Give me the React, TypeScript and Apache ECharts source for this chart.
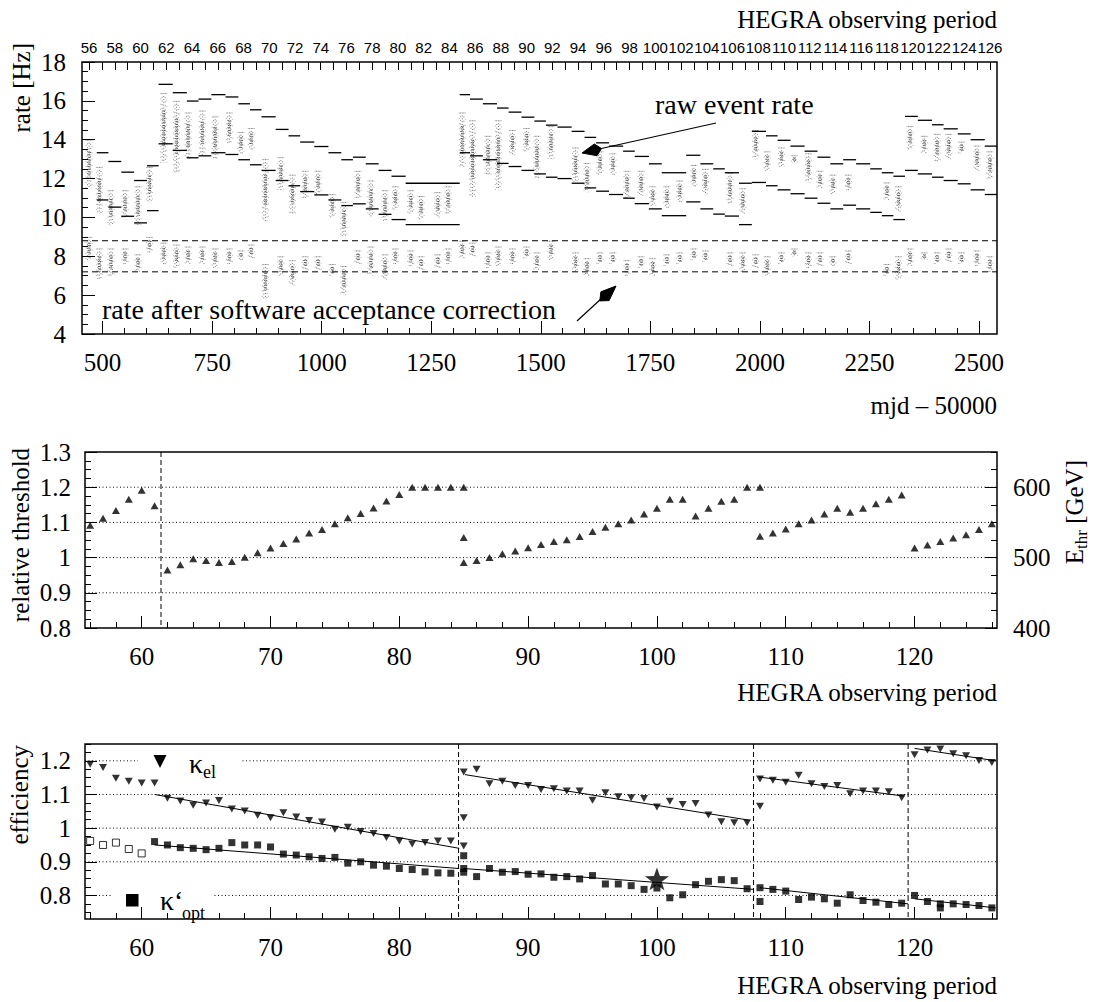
import React, { useEffect, useRef } from "react";
import * as echarts from "echarts";

const SERIF = "Liberation Serif";
const SANS = "Liberation Sans";

// ---------- tick labels ----------
const mjdLabels = [500, 750, 1000, 1250, 1500, 1750, 2000, 2250, 2500];
const periodTopLabels = [56, 58, 60, 62, 64, 66, 68, 70, 72, 74, 76, 78, 80, 82, 84, 86, 88, 90, 92, 94, 96, 98, 100, 102, 104, 106, 108, 110, 112, 114, 116, 118, 120, 122, 124, 126];
const periodLabels = [60, 70, 80, 90, 100, 110, 120];
const rateLabels = [4, 6, 8, 10, 12, 14, 16, 18];
const thrLabels = [0.8, 0.9, 1, 1.1, 1.2, 1.3];
const ethrLabels = [400, 500, 600];
const effLabels = [0.8, 0.9, 1, 1.1, 1.2];

// ---------- top panel: expected raw-rate band per observing period ----------
const stepStart = [56.6, 57.5, 58.5, 59.5, 60.5, 61.4, 62.5, 63.6, 64.5, 65.5, 66.6, 67.6, 68.5, 69.4, 70.5, 71.5, 72.4, 73.5, 74.6, 75.6, 76.5, 77.5, 78.5, 79.5, 80.6, 84.8, 85.6, 86.6, 87.7, 88.6, 89.6, 90.6, 91.5, 92.4, 93.5, 94.5, 95.4, 96.4, 97.5, 98.4, 99.5, 100.5, 102.4, 103.5, 104.5, 105.4, 106.5, 107.5, 108.6, 109.5, 110.5, 111.6, 112.6, 113.6, 114.6, 115.6, 116.7, 117.6, 118.5, 119.4, 120.4, 121.5, 122.4, 123.5, 124.5, 125.6];
const stepLastEnd = 126.6;
const stepUpper = [13.33, 12.88, 12.33, 11.9, 12.66, 16.85, 16.42, 15.99, 16.09, 16.32, 16.2, 15.85, 15.54, 15.18, 14.53, 14.2, 13.88, 13.65, 13.33, 12.97, 13.1, 12.76, 12.42, 12.12, 11.76, 16.32, 16.09, 15.85, 15.63, 15.42, 15.16, 14.96, 14.75, 14.65, 14.43, 14.12, 13.84, 13.67, 13.41, 13.14, 12.76, 12.3, 13.2, 12.76, 12.5, 12.3, 11.76, 14.43, 14.2, 13.97, 13.67, 13.41, 13.1, 12.76, 12.97, 12.76, 12.5, 12.3, 12.12, 15.2, 15.0, 14.77, 14.56, 14.3, 14.0, 13.67];
const stepLower = [10.9, 10.53, 10.06, 9.72, 10.35, 13.79, 13.45, 13.07, 13.17, 13.33, 13.24, 12.97, 12.71, 12.42, 11.9, 11.63, 11.33, 11.16, 10.9, 10.61, 10.7, 10.44, 10.16, 9.89, 9.63, 13.33, 13.17, 12.97, 12.78, 12.62, 12.42, 12.24, 12.07, 12.0, 11.76, 11.52, 11.35, 11.18, 10.99, 10.71, 10.44, 10.09, 10.8, 10.44, 10.17, 10.07, 9.63, 11.8, 11.63, 11.42, 11.22, 10.99, 10.73, 10.44, 10.63, 10.44, 10.26, 10.09, 9.89, 12.42, 12.24, 12.07, 11.9, 11.73, 11.42, 11.18];

// ---------- top panel: nightly rate streaks (raw / corrected) ----------
const streakPeriod = [56.0, 56.8, 57.7, 58.8, 59.8, 60.7, 61.8, 62.8, 63.7, 64.8, 65.8, 66.9, 67.8, 68.6, 69.7, 70.9, 71.8, 72.8, 73.8, 74.9, 75.8, 76.9, 77.9, 79.0, 79.8, 81.0, 81.8, 83.1, 83.9, 85.0, 85.8, 87.0, 87.8, 88.9, 90.0, 90.8, 91.9, 93.8, 94.7, 95.7, 96.7, 97.8, 98.9, 99.8, 100.9, 101.9, 103.0, 103.9, 105.8, 106.8, 107.8, 108.7, 109.8, 110.8, 111.9, 112.8, 113.8, 115.0, 118.0, 118.9, 119.8, 120.9, 121.9, 122.8, 123.8, 125.0, 126.0];
const rawLo = [11.5, 10.2, 9.6, 9.9, 9.6, 10.8, 12.8, 12.3, 13.0, 13.2, 13.0, 13.8, 13.3, 13.5, 9.8, 11.4, 10.2, 11.0, 11.2, 10.0, 9.0, 11.0, 10.0, 9.8, 10.4, 10.2, 9.9, 10.0, 10.2, 12.6, 11.0, 12.2, 11.4, 13.2, 13.4, 12.0, 13.0, 11.8, 11.3, 12.2, 12.2, 11.0, 11.1, 10.6, 10.5, 10.8, 11.6, 11.2, 10.7, 10.2, 13.0, 12.4, 12.6, 12.8, 11.8, 11.5, 11.2, 11.4, 10.9, 10.3, 13.5, 13.3, 12.9, 13.0, 13.3, 12.4, 12.0];
const rawHi = [14.0, 12.6, 11.4, 11.4, 11.6, 12.6, 16.4, 16.0, 15.4, 15.5, 15.2, 15.4, 14.4, 14.6, 13.0, 13.1, 12.2, 12.4, 12.4, 11.2, 10.8, 12.4, 11.9, 11.4, 11.6, 11.4, 11.1, 11.3, 11.6, 15.4, 15.0, 14.2, 15.0, 14.5, 14.6, 14.2, 14.7, 13.6, 12.8, 13.4, 13.3, 12.4, 12.4, 11.6, 11.6, 11.9, 12.7, 12.5, 12.3, 11.5, 14.5, 13.4, 13.6, 13.2, 13.3, 12.4, 12.2, 12.2, 11.8, 11.6, 14.7, 14.2, 14.3, 14.3, 13.9, 13.7, 13.4];
const corrLo = [7.8, 6.8, 7.0, 7.6, 7.2, 8.2, 7.6, 7.4, 7.6, 7.6, 7.4, 7.6, 7.8, 7.9, 5.8, 7.0, 6.5, 7.3, 7.3, 7.0, 6.0, 7.6, 7.0, 6.8, 7.6, 7.5, 7.3, 7.4, 7.6, 7.9, 8.0, 7.4, 7.5, 7.6, 7.9, 7.3, 7.8, 7.2, 7.0, 7.6, 7.6, 7.0, 7.4, 7.0, 7.5, 7.6, 7.8, 7.7, 7.5, 7.2, 7.4, 7.0, 7.6, 8.0, 7.4, 7.5, 7.5, 7.6, 7.0, 6.8, 7.5, 7.8, 7.6, 7.7, 7.6, 7.5, 7.2];
const corrHi = [9.0, 8.4, 8.4, 8.4, 8.1, 9.0, 8.7, 8.6, 8.5, 8.5, 8.4, 8.4, 8.3, 8.6, 7.6, 8.0, 7.8, 8.0, 8.0, 7.6, 7.5, 8.3, 8.5, 8.1, 8.4, 8.3, 8.0, 8.1, 8.4, 8.8, 8.7, 8.2, 8.5, 8.4, 8.5, 8.2, 8.8, 8.2, 7.9, 8.2, 8.2, 7.8, 8.0, 7.9, 8.1, 8.2, 8.4, 8.3, 8.2, 8.2, 8.1, 8.0, 8.2, 8.4, 8.2, 8.2, 8.0, 8.3, 7.6, 8.0, 8.4, 8.2, 8.2, 8.4, 8.2, 8.3, 8.0];
const corrBand = [8.8, 7.2];

// ---------- middle panel: relative threshold ----------
const thrPeriod = [56, 57, 58, 59, 60, 61, 62, 63, 64, 65, 66, 67, 68, 69, 70, 71, 72, 73, 74, 75, 76, 77, 78, 79, 80, 81, 82, 83, 84, 85, 85, 85, 86, 87, 88, 89, 90, 91, 92, 93, 94, 95, 96, 97, 98, 99, 100, 101, 102, 103, 104, 105, 106, 107, 108, 108, 109, 110, 111, 112, 113, 114, 115, 116, 117, 118, 119, 120, 121, 122, 123, 124, 125, 126];
const thrValue = [1.092, 1.112, 1.134, 1.166, 1.191, 1.147, 0.965, 0.98, 0.997, 0.992, 0.986, 0.989, 1.001, 1.014, 1.027, 1.04, 1.053, 1.07, 1.08, 1.096, 1.113, 1.125, 1.141, 1.161, 1.179, 1.2, 1.2, 1.2, 1.2, 1.2, 1.057, 0.986, 0.992, 1.0, 1.011, 1.019, 1.028, 1.037, 1.046, 1.051, 1.06, 1.074, 1.086, 1.096, 1.107, 1.124, 1.14, 1.166, 1.166, 1.118, 1.14, 1.16, 1.166, 1.2, 1.2, 1.061, 1.07, 1.081, 1.096, 1.107, 1.124, 1.14, 1.129, 1.14, 1.153, 1.166, 1.178, 1.027, 1.036, 1.046, 1.056, 1.065, 1.08, 1.096];
const thrGrid = [0.9, 1.0, 1.1, 1.2];
const thrBreaks = [61.5];

// ---------- bottom panel: efficiencies ----------
const elPeriod = [56, 57, 58, 59, 60, 61, 62, 63, 64, 65, 66, 67, 68, 69, 70, 71, 72, 73, 74, 75, 76, 77, 78, 79, 80, 81, 82, 83, 84, 85, 85, 85, 86, 87, 88, 89, 90, 91, 92, 93, 94, 95, 96, 97, 98, 99, 100, 101, 102, 103, 104, 105, 106, 107, 108, 108, 109, 110, 111, 112, 113, 114, 115, 116, 117, 118, 119, 120, 121, 122, 123, 124, 125, 126];
const elValue = [1.19, 1.18, 1.148, 1.139, 1.134, 1.134, 1.089, 1.081, 1.068, 1.075, 1.082, 1.057, 1.051, 1.038, 1.031, 1.046, 1.033, 1.023, 1.018, 0.997, 1.003, 0.99, 0.984, 0.972, 0.962, 0.953, 0.957, 0.962, 0.962, 0.947, 1.031, 1.167, 1.175, 1.132, 1.139, 1.127, 1.127, 1.115, 1.117, 1.11, 1.11, 1.083, 1.105, 1.093, 1.09, 1.088, 1.063, 1.08, 1.07, 1.073, 1.039, 1.019, 1.016, 1.016, 1.146, 1.065, 1.142, 1.136, 1.157, 1.132, 1.124, 1.127, 1.102, 1.11, 1.11, 1.108, 1.09, 1.218, 1.232, 1.235, 1.221, 1.215, 1.201, 1.195];
const optPeriod = [61, 62, 63, 64, 65, 66, 67, 68, 69, 70, 71, 72, 73, 74, 75, 76, 77, 78, 79, 80, 81, 82, 83, 84, 85, 85, 85, 86, 87, 88, 89, 90, 91, 92, 93, 94, 95, 96, 97, 98, 99, 100, 101, 102, 103, 104, 105, 106, 107, 108, 108, 109, 110, 111, 112, 113, 114, 115, 116, 117, 118, 119, 120, 121, 122, 122, 123, 124, 125, 126];
const optValue = [0.96, 0.95, 0.942, 0.94, 0.936, 0.94, 0.957, 0.95, 0.95, 0.944, 0.923, 0.92, 0.915, 0.91, 0.913, 0.896, 0.9, 0.89, 0.887, 0.88, 0.877, 0.87, 0.867, 0.866, 0.918, 0.88, 0.869, 0.856, 0.88, 0.869, 0.871, 0.863, 0.864, 0.854, 0.856, 0.849, 0.859, 0.834, 0.834, 0.829, 0.818, 0.822, 0.793, 0.802, 0.832, 0.842, 0.847, 0.844, 0.82, 0.823, 0.782, 0.818, 0.813, 0.788, 0.795, 0.79, 0.777, 0.802, 0.785, 0.78, 0.773, 0.777, 0.8, 0.782, 0.775, 0.763, 0.775, 0.773, 0.77, 0.763];
const optOpenPeriod = [56, 57, 58, 59, 60];
const optOpenValue = [0.962, 0.95, 0.957, 0.938, 0.925];
const refPoint = [100, 0.849];
// fit segments: [period start, value start, period end, value end]
const elFit = [[61, 1.1, 84.65, 0.94], [85.1, 1.159, 107.1, 1.024], [107.9, 1.152, 119.2, 1.095], [120, 1.237, 126.3, 1.2]];
const optFit = [[61, 0.95, 84.65, 0.88], [85, 0.88, 107.5, 0.818], [108, 0.823, 119.5, 0.775], [120, 0.79, 126.3, 0.763]];
const effGrid = [0.8, 0.9, 1.0, 1.1, 1.2];
const effBreaks = [84.6, 107.5, 119.5];

// ---------- helpers ----------
const rng = (a: number, b: number, s: number) => {
  const o: number[] = [];
  for (let i = 0; a + i * s <= b + 1e-9; i++) o.push(+(a + i * s).toFixed(4));
  return o;
};
const fmt = (v: any) => String(+Number(v).toFixed(3));
const tickStyle = { color: "#000", width: 1 };
const lab = { color: "#000", fontFamily: SERIF, fontSize: 25 };

function ax(gridIndex: number, min: number, max: number, position: string, ticks: number[], len: number, labels?: number[], labelOpts?: any) {
  return {
    type: "value", gridIndex, min, max, position,
    axisLine: { show: false }, splitLine: { show: false },
    axisTick: { show: true, inside: true, length: len, customValues: ticks, lineStyle: tickStyle },
    minorTick: { show: false },
    axisLabel: labels ? { show: true, customValues: labels, formatter: fmt, hideOverlap: false, ...labelOpts } : { show: false },
  };
}

const hlineRender = (dash: number[], xAny: number) => (params: any, api: any) => {
  const cs = params.coordSys;
  const y = api.coord([xAny, api.value(0)])[1];
  return { type: "line", shape: { x1: cs.x, y1: y, x2: cs.x + cs.width, y2: y }, style: { stroke: "#000", lineWidth: 1, lineDash: dash } };
};
const vlineRender = (dash: number[], yAny: number) => (params: any, api: any) => {
  const cs = params.coordSys;
  const x = api.coord([api.value(0), yAny])[0];
  return { type: "line", shape: { x1: x, y1: cs.y, x2: x, y2: cs.y + cs.height }, style: { stroke: "#000", lineWidth: 1, lineDash: dash } };
};

// a streak of night-by-night rate points: sparse dotted columns over the full range,
// denser and darker columns over its central part
const streakRender = (params: any, api: any) => {
  const p = api.value(0);
  const children: any[] = [];
  const outer = [
    { o: -3, d: [1, 4.3], a: 0.35 },
    { o: -1.6, d: [1, 2.7], a: 0.5 },
    { o: 0, d: [1, 1.9], a: 0.55 },
    { o: 1.6, d: [1, 3.1], a: 0.5 },
    { o: 3, d: [1, 5.3], a: 0.3 },
  ];
  const pairs = [[api.value(1), api.value(2)], [api.value(3), api.value(4)]];
  pairs.forEach(([lo, hi]) => {
    const a = api.coord([p, hi]);
    const b = api.coord([p, lo]);
    outer.forEach((s) => {
      children.push({
        type: "line",
        shape: { x1: a[0] + s.o, y1: a[1], x2: b[0] + s.o, y2: b[1] },
        style: { stroke: "#000", opacity: s.a, lineWidth: 1, lineDash: s.d },
      });
    });
    const h = b[1] - a[1];
    [-0.8, 0.8].forEach((o, i) => {
      children.push({
        type: "line",
        shape: { x1: a[0] + o, y1: a[1] + h * 0.25, x2: b[0] + o, y2: b[1] - h * 0.25 },
        style: { stroke: "#000", opacity: 0.6, lineWidth: 1.2, lineDash: i ? [1.3, 1.1] : [1, 1.4] },
      });
    });
  });
  return { type: "group", children };
};

const stepRender = (params: any, api: any) => {
  const s = api.value(0), e = api.value(1);
  const u1 = api.coord([s, api.value(2)]), u2 = api.coord([e, api.value(2)]);
  const l1 = api.coord([s, api.value(3)]), l2 = api.coord([e, api.value(3)]);
  return {
    type: "group",
    children: [
      { type: "line", shape: { x1: u1[0], y1: u1[1], x2: u2[0], y2: u2[1] }, style: { stroke: "#000", lineWidth: 1.3 } },
      { type: "line", shape: { x1: l1[0], y1: l1[1], x2: l2[0], y2: l2[1] }, style: { stroke: "#000", lineWidth: 1.3 } },
    ],
  };
};

const STAR = "path://M0,-10L2.35,-3.24L9.51,-3.09L3.8,1.24L5.88,8.09L0,4L-5.88,8.09L-3.8,1.24L-9.51,-3.09L-2.35,-3.24Z";

function txt(text: string, x: number, y: number, size: number, align: string, vAlign = "middle", extra: any = {}) {
  return {
    type: "text", x, y, z: 101, silent: true, ...extra,
    style: { text, fill: "#000", fontFamily: SERIF, fontSize: size, align, textAlign: align, verticalAlign: vAlign, textVerticalAlign: vAlign },
  };
}

function buildOption() {
  const gridBase = { show: true, borderColor: "#000", borderWidth: 1.5, backgroundColor: "transparent", containLabel: false, outerBoundsMode: "none" };
  const grid = [
    { ...gridBase, left: 82, top: 62, width: 915, height: 272 },
    { ...gridBase, left: 85, top: 452, width: 912, height: 176 },
    { ...gridBase, left: 85, top: 744, width: 912, height: 175 },
  ];
  const xAxis = [
    ax(0, 453, 2541, "bottom", mjdLabels, 13, mjdLabels, { ...lab, margin: 16 }),
    ax(0, 453, 2541, "bottom", rng(500, 2500, 50), 6),
    ax(0, 55.45, 126.55, "top", rng(56, 126, 1), 8, periodTopLabels, { color: "#000", fontFamily: SANS, fontSize: 15, margin: 7 }),
    ax(1, 55.6, 126.4, "bottom", periodLabels, 12, periodLabels, { ...lab, margin: 16 }),
    ax(1, 55.6, 126.4, "bottom", rng(56, 126, 2), 6),
    ax(2, 55.6, 126.4, "bottom", periodLabels, 12, periodLabels, { ...lab, margin: 16 }),
    ax(2, 55.6, 126.4, "bottom", rng(56, 126, 2), 6),
  ];
  const yAxis = [
    ax(0, 4, 18, "left", rateLabels, 13, rateLabels, { ...lab, margin: 16 }),
    ax(0, 4, 18, "left", rng(4, 18, 0.5), 6),
    ax(1, 0.8, 1.3, "left", thrLabels, 12, thrLabels, { ...lab, margin: 14 }),
    ax(1, 0.8, 1.3, "left", rng(0.8, 1.3, 0.025), 6),
    ax(1, 400, 650, "right", ethrLabels, 12, ethrLabels, { ...lab, margin: 16 }),
    ax(1, 400, 650, "right", rng(400, 650, 25), 6),
    ax(2, 0.73, 1.25, "left", effLabels, 12, effLabels, { ...lab, margin: 14 }),
    ax(2, 0.73, 1.25, "left", rng(0.75, 1.25, 0.025), 6),
  ];

  const stepData = stepStart.map((s, i) => [s, i + 1 < stepStart.length ? stepStart[i + 1] : stepLastEnd, stepUpper[i], stepLower[i]]);
  const streakData = streakPeriod.map((p, i) => [p, rawLo[i], rawHi[i], corrLo[i], corrHi[i]]);

  const fitSeries = [...elFit, ...optFit].map((s) => ({
    type: "line", xAxisIndex: 5, yAxisIndex: 6, silent: true, z: 3,
    data: [[s[0], s[1]], [s[2], s[3]]],
    showSymbol: false, symbol: "none",
    lineStyle: { color: "#000", width: 1 },
  }));

  const series: any[] = [
    { type: "custom", name: "streaks", xAxisIndex: 2, yAxisIndex: 0, clip: true, silent: true, z: 1, data: streakData, renderItem: streakRender },
    { type: "custom", name: "steps", xAxisIndex: 2, yAxisIndex: 0, clip: true, silent: true, z: 3, data: stepData, renderItem: stepRender },
    { type: "custom", name: "band", xAxisIndex: 2, yAxisIndex: 0, silent: true, z: 2, data: corrBand.map((v) => [v]), renderItem: hlineRender([6, 4], 60) },

    { type: "custom", name: "thrGrid", xAxisIndex: 3, yAxisIndex: 2, silent: true, z: 1, data: thrGrid.map((v) => [v]), renderItem: hlineRender([1, 2.5], 60) },
    { type: "custom", name: "thrBreak", xAxisIndex: 3, yAxisIndex: 2, silent: true, z: 1, data: thrBreaks.map((v) => [v]), renderItem: vlineRender([5, 3], 1) },
    {
      type: "scatter", name: "threshold", xAxisIndex: 3, yAxisIndex: 2, silent: true, z: 4,
      data: thrPeriod.map((p, i) => [p, thrValue[i]]),
      symbol: "triangle", symbolSize: [8, 7], itemStyle: { color: "#000" },
    },

    { type: "custom", name: "effGrid", xAxisIndex: 5, yAxisIndex: 6, silent: true, z: 1, data: effGrid.map((v) => [v]), renderItem: hlineRender([1, 2.5], 60) },
    { type: "custom", name: "effBreak", xAxisIndex: 5, yAxisIndex: 6, silent: true, z: 1, data: effBreaks.map((v) => [v]), renderItem: vlineRender([5, 3], 1) },
    ...fitSeries,
    {
      type: "scatter", name: "kel", xAxisIndex: 5, yAxisIndex: 6, silent: true, z: 4,
      data: elPeriod.map((p, i) => [p, elValue[i]]),
      symbol: "triangle", symbolRotate: 180, symbolSize: [8, 7], itemStyle: { color: "#000" },
    },
    {
      type: "scatter", name: "kopt", xAxisIndex: 5, yAxisIndex: 6, silent: true, z: 4,
      data: optPeriod.map((p, i) => [p, optValue[i]]),
      symbol: "rect", symbolSize: 7, itemStyle: { color: "#000" },
    },
    {
      type: "scatter", name: "koptOpen", xAxisIndex: 5, yAxisIndex: 6, silent: true, z: 4,
      data: optOpenPeriod.map((p, i) => [p, optOpenValue[i]]),
      symbol: "rect", symbolSize: 7, itemStyle: { color: "#fff", borderColor: "#000", borderWidth: 1 },
    },
    {
      type: "scatter", name: "ref", xAxisIndex: 5, yAxisIndex: 6, silent: true, z: 5,
      data: [refPoint], symbol: STAR, symbolKeepAspect: true, symbolSize: 24, itemStyle: { color: "#000" },
    },
  ];

  // arrowheads (annotation)
  const head1 = [[582, 153], [594.3, 144], [601.5, 148.5], [597, 155.7]];
  const head2 = [[616, 286], [609.1, 300.6], [599.8, 300.9], [600.9, 291.8]];

  const graphic: any[] = [
    // axis titles
    txt("HEGRA observing period", 997, 19, 25, "right"),
    txt("mjd \u2013 50000", 997, 405, 25, "right"),
    txt("HEGRA observing period", 997, 692, 25, "right"),
    txt("HEGRA observing period", 997, 985, 25, "right"),
    txt("rate [Hz]", 21, 43, 25, "right", "middle", { rotation: Math.PI / 2 }),
    txt("relative threshold", 20, 535, 25, "center", "middle", { rotation: Math.PI / 2 }),
    txt("efficiency", 19, 745, 25, "right", "middle", { rotation: Math.PI / 2 }),
    {
      type: "group", x: 1074, y: 460, rotation: Math.PI / 2, z: 101,
      children: [
        txt(" [GeV]", 0, 0, 25, "right"),
        txt("thr", -70, 7, 17, "right"),
        txt("E", -89, 0, 25, "right"),
      ],
    },
    // annotations in the top panel
    txt("raw event rate", 655, 104, 28, "left"),
    { type: "line", z: 101, silent: true, shape: { x1: 716, y1: 123, x2: 599, y2: 149 }, style: { stroke: "#000", lineWidth: 1.2 } },
    { type: "polygon", z: 102, silent: true, shape: { points: head1 }, style: { fill: "#000", stroke: "#000" } },
    txt("rate after software acceptance correction", 102, 309, 28, "left"),
    { type: "line", z: 101, silent: true, shape: { x1: 577, y1: 321, x2: 602, y2: 298 }, style: { stroke: "#000", lineWidth: 1.2 } },
    { type: "polygon", z: 102, silent: true, shape: { points: head2 }, style: { fill: "#000", stroke: "#000" } },
    // legend of the bottom panel
    { type: "rect", z: 100, silent: true, shape: { x: 138, y: 755, width: 104, height: 12 }, style: { fill: "#fff" } },
    { type: "rect", z: 100, silent: true, shape: { x: 112, y: 889, width: 102, height: 13 }, style: { fill: "#fff" } },
    { type: "polygon", z: 101, silent: true, shape: { points: [[153.5, 755], [166.5, 755], [160, 768]] }, style: { fill: "#000" } },
    txt("\u03ba", 189, 763, 28, "left"),
    txt("el", 203, 772, 18, "left"),
    { type: "rect", z: 101, silent: true, shape: { x: 126, y: 894, width: 12.5, height: 12.5 }, style: { fill: "#000" } },
    txt("\u03ba\u2018", 160, 900, 28, "left"),
    txt("opt", 182, 913, 18, "left"),
  ];

  return { animation: false, backgroundColor: "#fff", grid, xAxis, yAxis, series, graphic };
}

export default function App() {
  const ref = useRef<HTMLDivElement>(null);
  useEffect(() => {
    const chart = echarts.init(ref.current!, undefined, { renderer: "svg" });
    chart.setOption(buildOption() as any);
    return () => chart.dispose();
  }, []);
  return <div ref={ref} style={{ position: "fixed", left: 0, top: 0, width: 1093, height: 1002, background: "#fff" }} />;
}
